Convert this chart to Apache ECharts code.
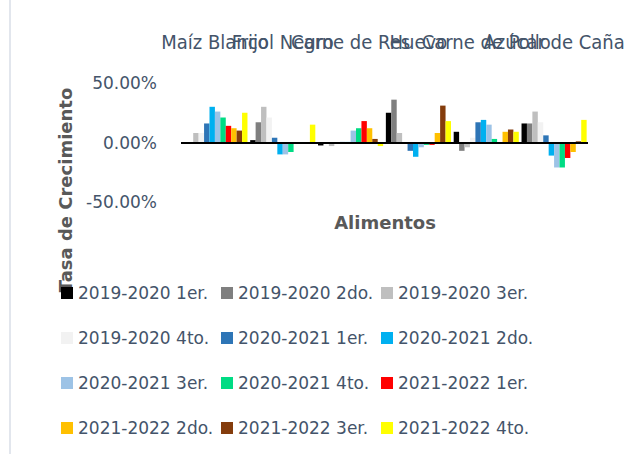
<!DOCTYPE html>
<html>
<head>
<meta charset="utf-8">
<script src="https://cdn.jsdelivr.net/npm/echarts@6/dist/echarts.min.js"></script>
<style>
html,body{margin:0;padding:0;background:#fff;}
#chart{width:629px;height:454px;}
</style>
</head>
<body>
<div id="chart"></div>
<script>
// Categories (food items)
const categories = ["Maíz Blanco", "Frijol Negro", "Carne de Res", "Huevo", "Carne de Pollo", "Azúcar de Caña"];

// Y tick values (percent)
const yTicks = [-50, 0, 50];

// Series names
const seriesNames = [
  "2019-2020 1er.", "2019-2020 2do.", "2019-2020 3er.", "2019-2020 4to.",
  "2020-2021 1er.", "2020-2021 2do.", "2020-2021 3er.", "2020-2021 4to.",
  "2021-2022 1er.", "2021-2022 2do.", "2021-2022 3er.", "2021-2022 4to."
];

// Growth rates (%) per category, one array per series
const s1920_1 = [-1, 2, -2.5, 25, 9, 16];
const s1920_2 = [0, 17, -1, 36, -7, 16];
const s1920_3 = [8, 30, -3, 8, -4, 26];
const s1920_4 = [8, 21, 0, 0.5, 4, 17];
const s2021_1 = [16, 4, 0.5, -7, 17, 6];
const s2021_2 = [30, -10, 0.5, -12, 19, -11];
const s2021_3 = [26, -10, 10, -4, 15, -21];
const s2021_4 = [21, -8, 12, -2, 3, -21];
const s2122_1 = [14, -0.5, 18, -2, -1, -13];
const s2122_2 = [12, -0.5, 12, 8, 9, -8];
const s2122_3 = [10, -0.5, 3, 31, 11, 1];
const s2122_4 = [25, 15, -3, 18, 9, 19];

const seriesValues = [s1920_1, s1920_2, s1920_3, s1920_4, s2021_1, s2021_2, s2021_3, s2021_4, s2122_1, s2122_2, s2122_3, s2122_4];
const colors = ["#000000", "#7F7F7F", "#BFBFBF", "#F2F2F2", "#2E75B6", "#00B0F0", "#9DC3E6", "#00DC84", "#FF0000", "#FFC000", "#843C0C", "#FFFF00"];

const textColor = "#44546A";
const mainFont = "'DejaVu Sans', sans-serif";

const chart = echarts.init(document.getElementById('chart'), null, {renderer: 'svg'});

const series = seriesNames.map((name, i) => {
  const s = {
    name: name,
    type: 'bar',
    data: seriesValues[i],
    barGap: '0%',
    barCategoryGap: '4%',
    itemStyle: {color: colors[i]},
    emphasis: {disabled: true}
  };
  if (i === 0) {
    s.markLine = {
      silent: true,
      symbol: 'none',
      label: {show: false},
      lineStyle: {color: '#000', width: 2, type: 'solid'},
      data: [{yAxis: 0}],
      animation: false
    };
  }
  return s;
});

const rowTops = [283, 328, 373, 418];
const legends = rowTops.map((top, r) => ({
  data: seriesNames.slice(r * 3, r * 3 + 3),
  left: 61,
  top: top,
  orient: 'horizontal',
  padding: 0,
  itemGap: 0,
  itemWidth: 12,
  itemHeight: 12,
  itemTextGap: 4,
  icon: 'rect',
  selectedMode: false,
  textStyle: {color: textColor, fontSize: 17, fontFamily: mainFont, width: 143, overflow: 'none', lineHeight: 20}
}));

chart.setOption({
  animation: false,
  color: colors,
  grid: {left: 181, right: 41, top: 83, bottom: 252, containLabel: false},
  legend: legends,
  xAxis: {
    type: 'category',
    data: categories,
    position: 'top',
    axisLine: {show: false, onZero: false},
    axisTick: {show: false},
    splitLine: {show: false},
    axisLabel: {
      interval: 0,
      margin: 31,
      color: textColor,
      fontSize: 20,
      fontFamily: "'DejaVu Sans Condensed', 'Liberation Sans Narrow', sans-serif"
    }
  },
  yAxis: {
    type: 'value',
    min: yTicks[0],
    max: yTicks[yTicks.length - 1],
    interval: 50,
    axisLine: {show: false},
    axisTick: {show: false},
    splitLine: {show: false},
    axisLabel: {
      margin: 24,
      color: textColor,
      fontSize: 17,
      fontFamily: mainFont,
      formatter: v => v.toFixed(2) + '%'
    }
  },
  graphic: [
    {type: 'line', shape: {x1: 10, y1: 0, x2: 10, y2: 454}, style: {stroke: '#D9DEE7', lineWidth: 1.5}},
    {type: 'text', x: 385, y: 222, style: {text: 'Alimentos', fill: '#595959', font: "bold 18px 'DejaVu Sans', sans-serif", textAlign: 'center', textVerticalAlign: 'middle'}},
    {type: 'text', x: 65, y: 190, rotation: Math.PI / 2, style: {text: 'Tasa de Crecimiento', fill: '#595959', font: "bold 18px 'DejaVu Sans', sans-serif", textAlign: 'center', textVerticalAlign: 'middle'}}
  ],
  series: series
});
</script>
</body>
</html>
